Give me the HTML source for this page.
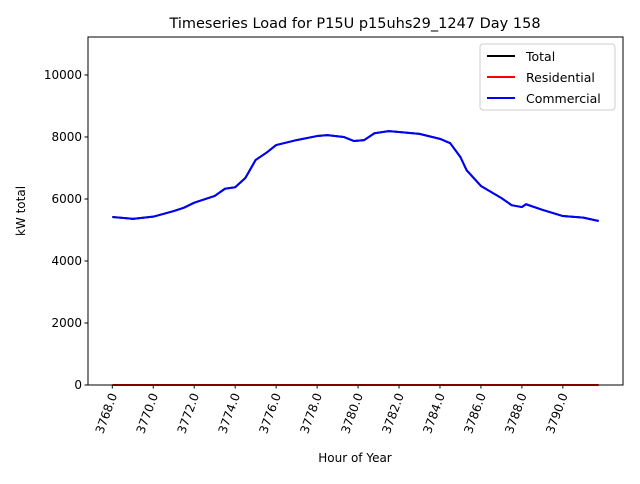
<!DOCTYPE html>
<html><head><meta charset="utf-8"><style>
body{margin:0;background:#fff;font-family:"DejaVu Sans","Liberation Sans",sans-serif;}
svg text{font-family:"DejaVu Sans","Liberation Sans",sans-serif;}
</style></head><body>
<svg id="chart" width="640" height="480" viewBox="0 0 640 480"></svg>
<script>
const hours=[3768,3769,3770,3771,3771.5,3772,3773,3773.5,3774,3774.5,3775,3775.5,3776,3777,3778,3778.5,3779.3,3779.8,3780.3,3780.8,3781.5,3782,3783,3784,3784.5,3785,3785.3,3786,3787,3787.5,3788,3788.2,3789,3789.5,3790,3791,3791.75];
const commercial=[5420,5360,5430,5610,5720,5880,6100,6330,6380,6680,7260,7480,7740,7900,8030,8060,8000,7870,7900,8120,8190,8160,8100,7940,7800,7350,6930,6420,6030,5800,5740,5830,5650,5550,5450,5400,5290];
const residential=hours.map(()=>0);
const total=commercial.map((v,i)=>v+residential[i]);
const xTicks=[3768,3770,3772,3774,3776,3778,3780,3782,3784,3786,3788,3790];
const yTicks=[0,2000,4000,6000,8000,10000];
const L=88,R=623,T=37,B=385,x0=3766.8125,x1=3792.9375,y0=0,y1=11225;
const X=v=>L+(v-x0)/(x1-x0)*(R-L), Y=v=>B-(v-y0)/(y1-y0)*(B-T);
const svg=document.getElementById('chart');const NS='http://www.w3.org/2000/svg';
function mk(t,a,p){const e=document.createElementNS(NS,t);for(const k in a)e.setAttribute(k,a[k]);(p||svg).appendChild(e);return e;}
function line(d,color,name){const e=mk('polyline',{points:hours.map((h,i)=>X(h)+','+Y(d[i])).join(' '),fill:'none',stroke:color,'stroke-width':2,'stroke-linejoin':'round'});

}
line(total,'#000','total-line');line(residential,'#f00','residential-line');line(commercial,'#00f','commercial-line');
const fr=mk('rect',{x:L,y:T,width:R-L,height:B-T,fill:'none',stroke:'#000','stroke-width':1});


xTicks.forEach(v=>{const x=X(v);mk('line',{x1:x,x2:x,y1:B,y2:B+3.5,stroke:'#000'});
const t=mk('text',{x:0,y:0,'font-size':12,'text-anchor':'end',transform:`translate(${x+5},${B+10}) rotate(-70)`});t.textContent=v.toFixed(1);

});
yTicks.forEach(v=>{const y=Y(v);mk('line',{x1:L-3.5,x2:L,y1:y,y2:y,stroke:'#000'});
const t=mk('text',{x:L-6,y:y+4,'font-size':12,'text-anchor':'end'});t.textContent=v;

});
let t=mk('text',{x:355,y:28,'font-size':14.5,'text-anchor':'middle'});t.textContent='Timeseries Load for P15U p15uhs29_1247  Day 158';


t=mk('text',{x:355,y:462,'font-size':12,'text-anchor':'middle'});t.textContent='Hour of Year';


t=mk('text',{x:0,y:0,'font-size':12,'text-anchor':'middle',transform:'translate(25,211) rotate(-90)'});t.textContent='kW total';


const lg=mk('g',{});


mk('rect',{x:480,y:44,width:135,height:66,rx:3,fill:'#fff',stroke:'#ccc'},lg);
[['Total','#000'],['Residential','#f00'],['Commercial','#00f']].forEach((e,i)=>{const y=56+i*21;
mk('line',{x1:487,x2:515,y1:y,y2:y,stroke:e[1],'stroke-width':2},lg);
const tx=mk('text',{x:526,y:y+5,'font-size':12.5},lg);tx.textContent=e[0];

});
</script>
</body></html>
